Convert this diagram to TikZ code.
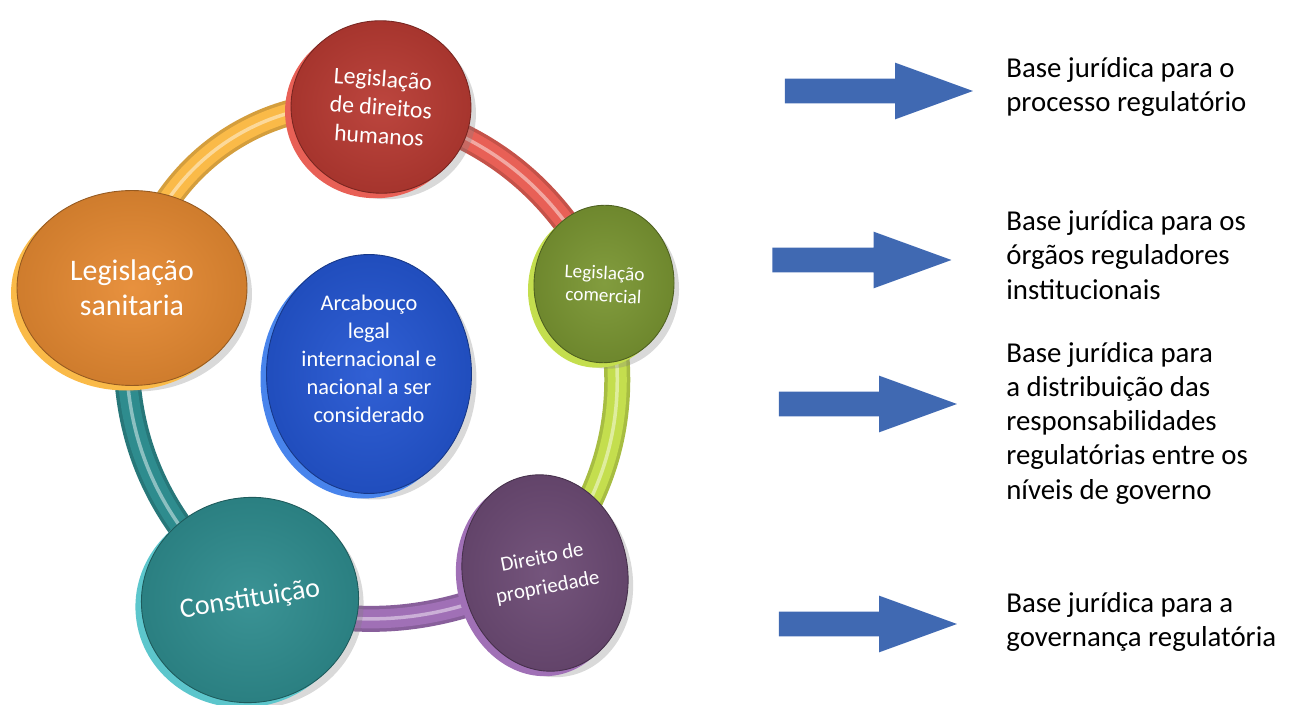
\documentclass[tikz,border=0pt]{standalone}
\usepackage{fontspec}
\setmainfont{Carlito}
\usetikzlibrary{shapes.geometric,shapes.arrows,shadows,backgrounds}

\definecolor{sanitaria}{RGB}{230,138,50}
\definecolor{sanitariaBorda}{RGB}{250,186,72}
\definecolor{humanos}{RGB}{184,58,50}
\definecolor{humanosBorda}{RGB}{232,96,86}
\definecolor{comercial}{RGB}{122,150,50}
\definecolor{comercialBorda}{RGB}{196,222,78}
\definecolor{propriedade}{RGB}{108,74,116}
\definecolor{propriedadeBorda}{RGB}{160,112,182}
\definecolor{constituicao}{RGB}{46,140,142}
\definecolor{constituicaoBorda}{RGB}{92,198,204}
\definecolor{arcabouco}{RGB}{36,86,210}
\definecolor{arcaboucoBorda}{RGB}{72,132,236}
\definecolor{azulseta}{RGB}{64,105,178}

\tikzset{
  disco/.style={
    ellipse, inner sep=0pt, align=center, text=white,
    drop shadow={shadow xshift=.1cm, shadow yshift=-.12cm, opacity=.3},
    preaction={fill=#1Borda, transform canvas={shift={(-.12cm,-.1cm)}}},
    draw=#1!65!black, line width=.5pt,
    inner color=#1!94!white, outer color=#1!90!black
  },
  tubo/.style={
    line width=.52cm, draw=#1!85!black,
    postaction={draw=#1, line width=.38cm},
    postaction={draw=#1!55!white, line width=.07cm}
  },
  seta/.style={
    single arrow, fill=azulseta, inner sep=0pt, inner ysep=.24cm,
    single arrow head extend=.32cm, single arrow tip angle=40
  },
  legenda/.style={
    anchor=west, inner sep=0pt, align=left,
    font=\fontsize{16.4}{19.5}\selectfont
  }
}

\begin{document}
\begin{tikzpicture}[x=.02cm,y=.02cm]

\useasboundingbox (0,0) rectangle (1291,-705);

% Discos
\node[disco=sanitaria, minimum width=4.6cm, minimum height=3.9cm,
  font=\fontsize{17}{20}\selectfont]
  (sanit) at (132,-288) {Legislação\\sanitaria};

\node[disco=humanos, minimum width=3.6cm, minimum height=3.45cm, rotate=-4,
  font=\fontsize{13.5}{16.2}\selectfont]
  (humanos) at (381,-107) {Legislação\\de direitos\\humanos};

\node[disco=comercial, minimum width=2.8cm, minimum height=3.15cm, rotate=-3,
  font=\fontsize{11}{13}\selectfont]
  (comerc) at (604,-284) {Legislação\\comercial};

\node[disco=propriedade, minimum width=3.3cm, minimum height=3.95cm, rotate=11,
  font=\fontsize{11.9}{17}\selectfont]
  (propr) at (545,-573) {Direito de\\propriedade};

\node[disco=constituicao, minimum width=4.35cm, minimum height=4.1cm, rotate=9,
  font=\fontsize{16}{18}\selectfont]
  (const) at (250,-600) {Constituição};

\node[disco=arcabouco, minimum width=4.1cm, minimum height=4.78cm]
  (arcab) at (369,-374) {};
\node[align=center, text=white, font=\fontsize{12.7}{16}\selectfont]
  (arcab-texto) at ([yshift=.3cm]arcab.center)
  {Arcabouço\\legal\\internacional e\\nacional a ser\\considerado};

% Anel de ligação
\begin{scope}[on background layer]
\draw[tubo=sanitariaBorda] (sanit.center) to[bend left=44] (humanos.center);
\draw[tubo=humanosBorda] (humanos.center) to[bend left=24] (comerc.center);
\draw[tubo=comercialBorda] (comerc.center) to[bend left=26] (propr.center);
\draw[tubo=propriedadeBorda] (propr.center) to[bend left=21] (const.center);
\draw[tubo=constituicao] (const.center) to[bend left=30] (sanit.center);
\end{scope}

% Setas
\node[seta, minimum height=3.76cm] (seta1) at (862,-91) {};
\node[seta, minimum height=3.58cm] (seta2) at (845,-260) {};
\node[seta, minimum height=3.56cm] (seta3) at (851,-404) {};
\node[seta, minimum height=3.56cm] (seta4) at (851,-624) {};

% Textos
\node[legenda] (base1) at (1006,-87)
  {Base jurídica para o\\processo regulatório};
\node[legenda] (base2) at (1006,-255)
  {Base jurídica para os\\órgãos reguladores\\institucionais};
\node[legenda] (base3) at (1006,-423)
  {Base jurídica para\\a distribuição das\\responsabilidades\\regulatórias entre os\\níveis de governo};
\node[legenda] (base4) at (1006,-622)
  {Base jurídica para a\\governança regulatória};

\end{tikzpicture}
\end{document}
